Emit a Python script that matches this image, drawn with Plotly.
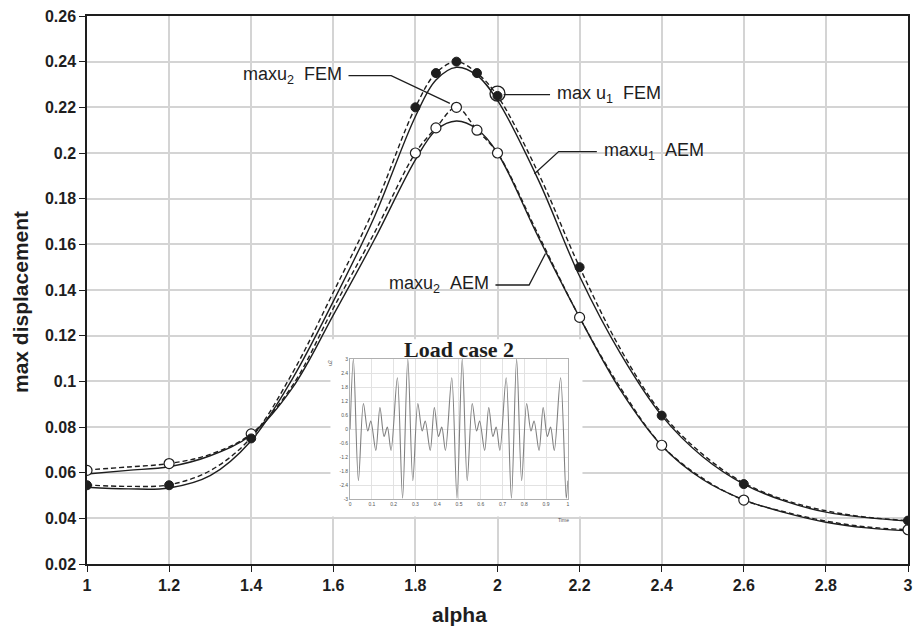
import plotly.graph_objects as go

# ---------------- data ----------------
# FEM results (markers)
alpha_fem = [1.0, 1.2, 1.4, 1.8, 1.85, 1.9, 1.95, 2.0, 2.2, 2.4, 2.6, 3.0]
u1_fem = [0.0545, 0.0545, 0.075, 0.220, 0.235, 0.240, 0.235, 0.225, 0.150, 0.085, 0.055, 0.039]
u2_fem = [0.061, 0.064, 0.077, 0.200, 0.211, 0.220, 0.210, 0.200, 0.128, 0.072, 0.048, 0.035]

# FEM curves (dashed)
alpha_fem_curve = [1.0, 1.1, 1.2, 1.3, 1.4, 1.5, 1.6, 1.7, 1.8, 1.85, 1.9, 1.95, 2.0,
                   2.1, 2.2, 2.3, 2.4, 2.5, 2.6, 2.7, 2.8, 2.9, 3.0]
u1_fem_curve = [0.0546, 0.054, 0.0547, 0.0609, 0.0754, 0.1035, 0.139, 0.176, 0.220, 0.235,
                0.240, 0.235, 0.225, 0.191, 0.150, 0.114, 0.086, 0.068, 0.0555, 0.048,
                0.0433, 0.0405, 0.039]
u2_fem_curve = [0.0612, 0.0625, 0.064, 0.068, 0.077, 0.098, 0.132, 0.165, 0.200, 0.211,
                0.220, 0.210, 0.200, 0.164, 0.128, 0.097, 0.072, 0.0575, 0.048, 0.0428,
                0.0388, 0.0362, 0.035]

# AEM curves (solid)
alpha_aem = [1.0, 1.1, 1.2, 1.3, 1.4, 1.5, 1.6, 1.7, 1.8, 1.85, 1.9, 1.95, 2.0,
             2.1, 2.2, 2.3, 2.4, 2.5, 2.6, 2.7, 2.8, 2.9, 3.0]
u1_aem = [0.0536, 0.0529, 0.0533, 0.0587, 0.074, 0.101, 0.135, 0.172, 0.216, 0.232,
          0.2375, 0.234, 0.223, 0.188, 0.146, 0.112, 0.085, 0.067, 0.055, 0.0475,
          0.0427, 0.0403, 0.0388]
u2_aem = [0.0594, 0.061, 0.0626, 0.0674, 0.0765, 0.097, 0.129, 0.162, 0.197, 0.210,
          0.214, 0.2105, 0.200, 0.163, 0.128, 0.096, 0.0718, 0.057, 0.0481, 0.0425,
          0.0383, 0.0358, 0.0345]

x_ticks = [1, 1.2, 1.4, 1.6, 1.8, 2, 2.2, 2.4, 2.6, 2.8, 3]
y_ticks = [0.02, 0.04, 0.06, 0.08, 0.1, 0.12, 0.14, 0.16, 0.18, 0.2, 0.22, 0.24, 0.26]

# highlighted FEM maximum of u1
max_u1_point = (2.0, 0.226)

# leader lines of the labels (data coordinates)
lead_u2_fem = ([1.637, 1.741, 1.884], [0.2339, 0.2339, 0.2217])
lead_u1_fem = ([2.015, 2.128], [0.2256, 0.2256])
lead_u1_aem = ([2.242, 2.149, 2.090], [0.2006, 0.2006, 0.1909])
lead_u2_aem = ([1.995, 2.077, 2.117], [0.1422, 0.1422, 0.156])

# inset: load case 2 time signal
t_load = [0.0, 0.015, 0.038, 0.061, 0.081, 0.095, 0.118, 0.137, 0.156, 0.171, 0.188, 0.217, 0.241,
          0.265, 0.288, 0.311, 0.331, 0.345, 0.368, 0.387, 0.406, 0.421, 0.438, 0.467, 0.491,
          0.515, 0.538, 0.561, 0.581, 0.595, 0.618, 0.637, 0.656, 0.671, 0.688, 0.717, 0.741,
          0.765, 0.788, 0.811, 0.831, 0.845, 0.868, 0.887, 0.906, 0.921, 0.938, 0.967, 0.993, 1.0]
f_load = [0.0, 3.0, -2.2, 1.1, -0.08, 0.35, -0.91, 0.93, -0.31, 0.09, -0.91, 2.2, -2.95,
          3.0, -2.2, 1.1, -0.08, 0.35, -0.91, 0.93, -0.31, 0.09, -0.91, 2.2, -2.95,
          3.0, -2.2, 1.1, -0.08, 0.35, -0.91, 0.93, -0.31, 0.09, -0.91, 2.2, -2.95,
          3.0, -2.2, 1.1, -0.08, 0.35, -0.91, 0.93, -0.31, 0.09, -0.91, 2.2, -2.95, -2.2]
inset_xticks = [0, 0.1, 0.2, 0.3, 0.4, 0.5, 0.6, 0.7, 0.8, 0.9, 1]
inset_yticks = [-3, -2.4, -1.8, -1.2, -0.6, 0, 0.6, 1.2, 1.8, 2.4, 3]
inset_ytext = ["-3", "-2.4", "-1.8", "-1.2", "-0.6", "0", "0.6", "1.2", "1.8", "2.4", "3"]

# ---------------- figure ----------------
INK = "#1e1e1e"
FONT = "Liberation Sans, Arial, sans-serif"

fig = go.Figure()

# AEM (solid)
for ys in (u1_aem, u2_aem):
    fig.add_trace(go.Scatter(x=alpha_aem, y=ys, mode="lines",
                             line=dict(color=INK, width=1.4, shape="spline", smoothing=1.0),
                             hoverinfo="skip", showlegend=False))

# FEM curves (dashed)
for ys in (u1_fem_curve, u2_fem_curve):
    fig.add_trace(go.Scatter(x=alpha_fem_curve, y=ys, mode="lines",
                             line=dict(color=INK, width=1.4, dash="5px,3px", shape="spline", smoothing=1.0),
                             hoverinfo="skip", showlegend=False))

# FEM markers
fig.add_trace(go.Scatter(x=alpha_fem, y=u2_fem, mode="markers",
                         marker=dict(symbol="circle", size=10, color="white",
                                     line=dict(color=INK, width=1.2)),
                         hoverinfo="skip", showlegend=False))
fig.add_trace(go.Scatter(x=alpha_fem, y=u1_fem, mode="markers",
                         marker=dict(symbol="circle", size=9, color=INK,
                                     line=dict(color=INK, width=1)),
                         hoverinfo="skip", showlegend=False))

# highlighted point circle
fig.add_trace(go.Scatter(x=[max_u1_point[0]], y=[max_u1_point[1]], mode="markers",
                         marker=dict(symbol="circle-open", size=15, color=INK,
                                     line=dict(color=INK, width=1.3)),
                         hoverinfo="skip", showlegend=False))

# leader lines
for lx, ly in (lead_u2_fem, lead_u1_fem, lead_u1_aem, lead_u2_aem):
    fig.add_trace(go.Scatter(x=lx, y=ly, mode="lines",
                             line=dict(color=INK, width=1.3),
                             hoverinfo="skip", showlegend=False))

# inset signal
fig.add_trace(go.Scatter(x=t_load, y=f_load, mode="lines", xaxis="x2", yaxis="y2",
                         line=dict(color="#808080", width=1.1, shape="spline", smoothing=0.9),
                         hoverinfo="skip", showlegend=False))

label_font = dict(family=FONT, size=18, color=INK)
annotations = [
    dict(x=1.625, y=0.2339, xref="x", yref="y", text="maxu<sub>2</sub>\u00a0\u00a0FEM",
         showarrow=False, xanchor="right", yanchor="middle", font=label_font),
    dict(x=2.140, y=0.2256, xref="x", yref="y", text="max u<sub>1</sub>\u00a0\u00a0FEM",
         showarrow=False, xanchor="left", yanchor="middle", font=label_font),
    dict(x=2.254, y=0.2006, xref="x", yref="y", text="maxu<sub>1</sub>\u00a0\u00a0AEM",
         showarrow=False, xanchor="left", yanchor="middle", font=label_font),
    dict(x=1.983, y=0.1422, xref="x", yref="y", text="maxu<sub>2</sub>\u00a0\u00a0AEM",
         showarrow=False, xanchor="right", yanchor="middle", font=label_font),
    # axis titles
    dict(x=0.454, y=-0.092, xref="paper", yref="paper", text="<b>alpha</b>", showarrow=False,
         xanchor="center", yanchor="middle", font=dict(family=FONT, size=21, color=INK)),
    dict(x=-0.081, y=0.479, xref="paper", yref="paper", text="<b>max displacement</b>", showarrow=False,
         textangle=-90, xanchor="center", yanchor="middle", font=dict(family=FONT, size=21, color=INK)),
    # inset texts
    dict(x=0.4535, y=0.392, xref="paper", yref="paper", text="<b>Load case 2</b>", showarrow=False,
         xanchor="center", yanchor="middle",
         font=dict(family="Liberation Serif, Times New Roman, serif", size=22, color=INK)),
    dict(x=0.98, y=-0.15, xref="x2 domain", yref="y2 domain", text="Time", showarrow=False,
         xanchor="center", yanchor="middle", font=dict(family=FONT, size=5, color="#555")),
    dict(x=-0.09, y=0.97, xref="x2 domain", yref="y2 domain", text="u2", showarrow=False,
         textangle=-90, xanchor="center", yanchor="middle", font=dict(family=FONT, size=5, color="#555")),
]

fig.update_layout(
    width=921, height=627,
    margin=dict(l=87, r=8, t=13, b=63),
    paper_bgcolor="white", plot_bgcolor="white",
    showlegend=False,
    annotations=annotations,
    shapes=[dict(type="rect", xref="x", yref="y", x0=1.593, x1=2.207, y0=0.0408, y1=0.1184,
                 fillcolor="white", line=dict(width=0), layer="between")],
    xaxis=dict(range=[1, 3], tickvals=x_ticks, showgrid=True, gridcolor="#d4d4d4", gridwidth=1.5,
               showline=True, linecolor=INK, linewidth=1.5, mirror=True,
               ticks="outside", ticklen=6, tickcolor=INK, tickwidth=1.2,
               tickfont=dict(family=FONT, size=16, color=INK, weight="bold"),
               zeroline=False, fixedrange=True),
    yaxis=dict(range=[0.02, 0.26], tickvals=y_ticks, showgrid=True, gridcolor="#d4d4d4", gridwidth=1.5,
               showline=True, linecolor=INK, linewidth=1.5, mirror=True,
               ticks="outside", ticklen=6, tickcolor=INK, tickwidth=1.2,
               tickfont=dict(family=FONT, size=16, color=INK, weight="bold"),
               zeroline=False, fixedrange=True),
    xaxis2=dict(domain=[0.3205, 0.5856], anchor="y2", range=[0, 1], tickvals=inset_xticks,
                showgrid=True, gridcolor="#e2e2e2", gridwidth=1, showline=True, linecolor="#b0b0b0",
                linewidth=1, mirror=True, ticks="", tickfont=dict(family=FONT, size=5, color="#555"),
                zeroline=False, fixedrange=True),
    yaxis2=dict(domain=[0.118, 0.374], anchor="x2", range=[-3, 3], tickvals=inset_yticks,
                ticktext=inset_ytext, showgrid=True, gridcolor="#e2e2e2", gridwidth=1, showline=True,
                linecolor="#b0b0b0", linewidth=1, mirror=True, ticks="",
                tickfont=dict(family=FONT, size=5, color="#555"), zeroline=False, fixedrange=True),
)

fig.write_html("out.html")
